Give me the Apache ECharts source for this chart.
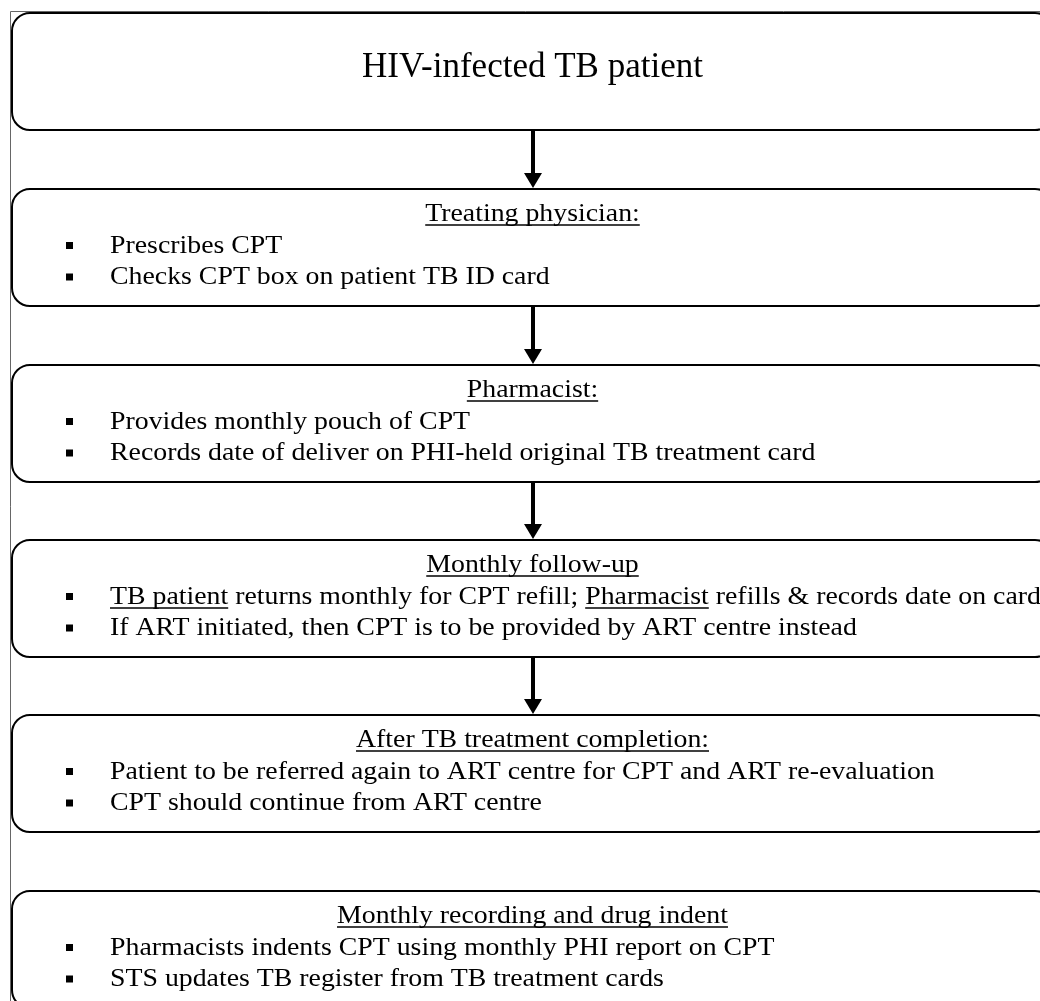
<!DOCTYPE html>
<html>
<head>
<meta charset="utf-8">
<script src="https://cdn.jsdelivr.net/npm/echarts@6/dist/echarts.min.js"></script>
<style>
  html, body { margin: 0; padding: 0; background: #fff; }
  #chart { width: 1040px; height: 1001px; }
</style>
</head>
<body>
<div id="chart"></div>
<script>
// flowchart content (underlined parts are wrapped in _ _)
const boxTitle = 'HIV-infected TB patient';
const stepHeaders = [
  'Treating physician:',
  'Pharmacist:',
  'Monthly follow-up',
  'After TB treatment completion:',
  'Monthly recording and drug indent'
];
const stepBullets = [
  ['Prescribes CPT', 'Checks CPT box on patient TB ID card'],
  ['Provides monthly pouch of CPT', 'Records date of deliver on PHI-held original TB treatment card'],
  ['_TB patient_ returns monthly for CPT refill; _Pharmacist_ refills & records date on card',
   'If ART initiated, then CPT is to be provided by ART centre instead'],
  ['Patient to be referred again to ART centre for CPT and ART re-evaluation',
   'CPT should continue from ART centre'],
  ['Pharmacists indents CPT using monthly PHI report on CPT',
   'STS updates TB register from TB treatment cards']
];
// arrow below each box (title box + steps)
const hasArrow = [true, true, true, true, false, false];

const FONT = '"Liberation Serif", "Times New Roman", serif';
const titleSize = 35;
const bodySize = 26;
const stretch = 1.07; // garamond-ish width

const boxLeft = 12, boxRight = 1053, boxH = 117, radius = 18;
const boxTops = [13, 189, 365, 540, 715, 891];
const cx = (boxLeft + boxRight) / 2;

const measureCtx = document.createElement('canvas').getContext('2d');
function textWidth(str, size, sx) {
  measureCtx.font = size + 'px ' + FONT;
  return measureCtx.measureText(str).width * sx;
}

const graphics = [];

// outer frame
graphics.push({
  type: 'rect',
  shape: { x: 10.5, y: 11.5, width: 1100, height: 1100 },
  style: { fill: 'none', stroke: '#666', lineWidth: 1 }
});

function addText(str, x, y, size, align, underline, sx) {
  graphics.push({
    type: 'text',
    x: x, y: y,
    scaleX: sx,
    style: {
      text: str, fill: '#000',
      font: size + 'px ' + FONT,
      align: align, verticalAlign: 'middle'
    }
  });
  if (underline) {
    const w = textWidth(str, size, sx);
    const x0 = align === 'center' ? x - w / 2 : x;
    graphics.push({
      type: 'line',
      shape: { x1: x0, y1: y + 11, x2: x0 + w, y2: y + 11 },
      style: { stroke: '#000', lineWidth: 1.3 }
    });
  }
}

boxTops.forEach(function (top, i) {
  graphics.push({
    type: 'rect',
    shape: { x: boxLeft, y: top, width: boxRight - boxLeft, height: boxH, r: radius },
    style: { fill: '#fff', stroke: '#000', lineWidth: 2 }
  });

  if (i === 0) {
    addText(boxTitle, cx, top + 55, titleSize, 'center', false, 1);
  } else {
    addText(stepHeaders[i - 1], cx, top + 25, bodySize, 'center', true, stretch);
    stepBullets[i - 1].forEach(function (line, j) {
      const y = top + 57 + j * 31.5;
      graphics.push({
        type: 'rect',
        shape: { x: 66, y: y - 4, width: 7, height: 7 },
        style: { fill: '#000' }
      });
      // split into underlined / plain parts
      let x = 110;
      line.split('_').forEach(function (part, k) {
        if (!part) return;
        addText(part, x, y, bodySize, 'left', k % 2 === 1, stretch);
        x += textWidth(part, bodySize, stretch);
      });
    });
  }

  if (hasArrow[i]) {
    const y1 = top + boxH + 1;
    const y2 = boxTops[i + 1];
    graphics.push({
      type: 'line',
      shape: { x1: 533, y1: y1, x2: 533, y2: y2 - 13 },
      style: { stroke: '#000', lineWidth: 4 }
    });
    graphics.push({
      type: 'polygon',
      shape: { points: [[524, y2 - 16], [542, y2 - 16], [533, y2 - 1]] },
      style: { fill: '#000' }
    });
  }
});

const chart = echarts.init(document.getElementById('chart'), null, { renderer: 'canvas' });
chart.setOption({
  animation: false,
  graphic: { elements: graphics }
});
</script>
</body>
</html>
